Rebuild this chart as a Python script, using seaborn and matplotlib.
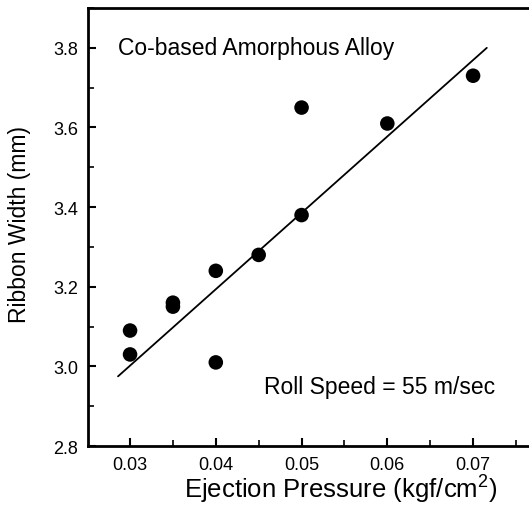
import pandas as pd
import seaborn as sns
import matplotlib.pyplot as plt
from matplotlib.ticker import MultipleLocator

# Dados
pressao = [0.03, 0.03, 0.035, 0.035, 0.04, 0.04, 0.045, 0.05, 0.05, 0.06, 0.07]
largura = [3.09, 3.03, 3.16, 3.15, 3.24, 3.01, 3.28, 3.65, 3.38, 3.61, 3.73]

# Reta de ajuste (extremos)
ajuste_x = [0.0286, 0.0716]
ajuste_y = [2.975, 3.80]

df_dados = pd.DataFrame({'x': pressao, 'y': largura})
df_ajuste = pd.DataFrame({'x': ajuste_x, 'y': ajuste_y})

sns.set_style('ticks')
plt.rcParams['font.family'] = ['Liberation Sans', 'DejaVu Sans']
plt.rcParams['mathtext.fontset'] = 'custom'
plt.rcParams['mathtext.rm'] = 'Liberation Sans'
plt.rcParams['mathtext.it'] = 'Liberation Sans'
plt.rcParams['text.color'] = 'black'
plt.rcParams['axes.labelcolor'] = 'black'
plt.rcParams['xtick.color'] = 'black'
plt.rcParams['ytick.color'] = 'black'
plt.rcParams['axes.edgecolor'] = 'black'

fig = plt.figure(figsize=(5.29, 5.10), dpi=100)
ax = fig.add_axes([0.1664, 0.1235, 0.89, 0.8588])

sns.lineplot(x='x', y='y', data=df_ajuste, color='black', linewidth=1.3, ax=ax)
sns.scatterplot(x='x', y='y', data=df_dados, color='black', s=110, edgecolor='none', ax=ax, zorder=3)

ax.set_xlim(0.0251, 0.08)
ax.set_ylim(2.8, 3.9)
ax.xaxis.set_minor_locator(MultipleLocator(0.005))
ax.yaxis.set_minor_locator(MultipleLocator(0.1))
ax.set_xticks([0.03, 0.04, 0.05, 0.06, 0.07])
ax.set_xticklabels(['0.03', '0.04', '0.05', '0.06', '0.07'])
ax.set_yticks([2.8, 3.0, 3.2, 3.4, 3.6, 3.8])
ax.set_yticklabels(['2.8', '3.0', '3.2', '3.4', '3.6', '3.8'])

ax.tick_params(which='major', direction='in', length=6, width=1.5, labelsize=13, pad=7)
ax.tick_params(which='minor', direction='in', length=4, width=1.2)
for s in ax.spines.values():
    s.set_linewidth(2)
    s.set_visible(True)

ax.set_xlabel('Ejection Pressure (kgf/cm$\\mathregular{^2}$)', fontsize=18.5, va='center')
ax.set_ylabel('Ribbon Width (mm)', fontsize=16.5, va='center')
ax.xaxis.set_label_coords(0.537, -0.098)
ax.yaxis.set_label_coords(-0.145, 0.507)

ax.text(0.0286, 3.8, 'Co-based Amorphous Alloy', fontsize=16.5, va='center', ha='left')
ax.text(0.0456, 2.95, 'Roll Speed = 55 m/sec', fontsize=16.5, va='center', ha='left')

plt.savefig('out.png', dpi=100)
